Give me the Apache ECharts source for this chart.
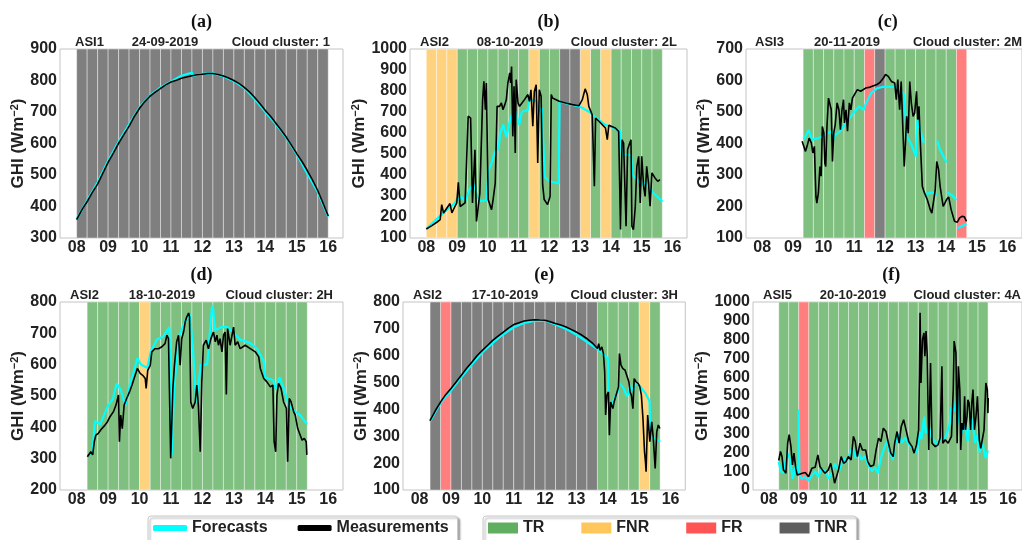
<!DOCTYPE html>
<html>
<head>
<meta charset="utf-8">
<script src="https://cdn.jsdelivr.net/npm/echarts/dist/echarts.min.js"></script>
<style>html,body{margin:0;padding:0;background:#fff}#main{width:1022px;height:540px}</style>
</head>
<body>
<div id="main"></div>
<script>
var hourTicks = [8, 9, 10, 11, 12, 13, 14, 15, 16];

// (a) ASI1 24-09-2019
var aMeas = [[8.00,358],[8.17,390],[8.33,415],[8.50,445],[8.67,472],[8.83,505],[9.00,540],[9.17,570],[9.33,600],[9.50,628],[9.67,655],[9.83,685],[10.00,712],[10.17,733],[10.33,750],[10.50,763],[10.67,775],[10.83,786],[11.00,795],[11.17,801],[11.33,807],[11.50,811],[11.67,815],[11.83,818],[12.00,820],[12.17,822],[12.33,822],[12.50,819],[12.67,814],[12.83,808],[13.00,800],[13.17,790],[13.33,778],[13.50,763],[13.67,745],[13.83,726],[14.00,705],[14.17,686],[14.33,665],[14.50,643],[14.67,620],[14.83,595],[15.00,568],[15.17,542],[15.33,515],[15.50,484],[15.67,450],[15.83,412],[16.00,370]];
var aFc = [[8.00,360],[8.33,418],[8.67,478],[9.00,545],[9.33,605],[9.60,650],[9.67,662],[10.00,715],[10.33,752],[10.67,778],[11.00,797],[11.33,815],[11.67,825],[11.70,815],[12.00,821],[12.33,823],[12.67,813],[13.00,798],[13.33,776],[13.67,740],[14.00,700],[14.33,662],[14.67,618],[15.00,566],[15.33,505],[15.67,445],[16.00,368]];
var aBands = [['TNR','08:00','16:00']];

// (b) ASI2 08-10-2019
var bMeas = [[8.00,143],[8.18,159],[8.34,175],[8.45,187],[8.50,259],[8.56,219],[8.67,243],[8.77,264],[8.83,220],[8.93,250],[8.99,267],[9.04,365],[9.10,250],[9.26,267],[9.36,680],[9.44,671],[9.50,267],[9.58,520],[9.63,179],[9.74,314],[9.83,759],[9.87,846],[9.92,711],[9.95,838],[10.01,283],[10.12,235],[10.17,283],[10.24,362],[10.30,727],[10.38,727],[10.44,743],[10.49,711],[10.55,735],[10.60,759],[10.65,838],[10.71,886],[10.74,838],[10.77,917],[10.81,584],[10.85,822],[10.89,505],[10.92,854],[10.98,743],[11.03,727],[11.19,759],[11.30,783],[11.35,751],[11.40,806],[11.46,632],[11.51,798],[11.57,830],[11.62,457],[11.67,806],[11.73,775],[11.78,354],[11.83,283],[11.94,259],[12.02,298],[12.06,783],[12.10,767],[12.32,751],[12.53,743],[12.75,735],[12.96,730],[13.07,759],[13.16,810],[13.23,783],[13.28,727],[13.39,687],[13.46,346],[13.50,671],[13.61,656],[13.82,624],[13.88,568],[13.93,637],[14.14,624],[14.25,608],[14.31,140],[14.36,568],[14.41,552],[14.49,156],[14.54,521],[14.61,552],[14.65,568],[14.68,156],[14.73,140],[14.79,251],[14.84,441],[14.90,489],[14.95,267],[15.00,489],[15.06,346],[15.11,298],[15.16,441],[15.22,362],[15.27,251],[15.33,410],[15.38,417],[15.43,386],[15.52,370],[15.59,378]];
var bFc = [[8.00,143],[8.30,185],[8.60,225],[8.90,262],[9.00,285],[9.15,295],[9.25,275],[9.40,330],[9.55,360],[9.65,300],[9.75,275],[9.95,280],[10.02,420],[10.15,470],[10.22,510],[10.35,525],[10.40,600],[10.50,640],[10.60,580],[10.75,680],[10.90,700],[11.02,640],[11.10,700],[11.30,710],[11.35,760],[11.60,750],[11.67,700],[11.75,720],[11.85,390],[12.00,370],[12.30,360],[12.33,750],[12.70,735],[13.00,725],[13.30,700],[13.50,675],[13.80,640],[14.00,630],[14.30,610],[14.35,500],[14.65,495],[14.70,400],[15.00,355],[15.10,365],[15.40,310],[15.67,275]];
var bBands = [['FNR','08:00','09:00'],['TR','09:00','11:20'],['FNR','11:20','11:40'],['TR','11:40','12:20'],['TNR','12:20','13:00'],['FNR','13:00','13:20'],['TR','13:20','13:40'],['FNR','13:40','14:00'],['TR','14:00','15:40']];

// (c) ASI3 20-11-2019
var cMeas = [[9.30,407],[9.35,402],[9.41,375],[9.46,391],[9.53,417],[9.60,402],[9.65,370],[9.70,391],[9.75,232],[9.78,211],[9.83,243],[9.88,327],[9.92,296],[9.96,454],[10.01,433],[10.04,338],[10.07,327],[10.11,454],[10.16,544],[10.21,550],[10.25,507],[10.29,343],[10.33,433],[10.38,460],[10.44,529],[10.50,507],[10.55,444],[10.60,507],[10.65,539],[10.68,465],[10.73,507],[10.78,439],[10.84,529],[10.89,507],[10.94,544],[10.99,539],[11.10,571],[11.21,566],[11.37,576],[11.52,579],[11.74,587],[11.84,594],[11.95,608],[12.02,619],[12.11,613],[12.21,597],[12.32,592],[12.37,539],[12.42,603],[12.48,507],[12.53,597],[12.58,603],[12.63,327],[12.67,402],[12.71,486],[12.76,433],[12.81,597],[12.86,529],[12.92,486],[12.97,497],[13.03,566],[13.07,476],[13.11,518],[13.16,391],[13.22,264],[13.27,248],[13.38,222],[13.48,190],[13.53,179],[13.64,253],[13.69,343],[13.75,317],[13.80,264],[13.90,200],[14.01,222],[14.08,230],[14.16,190],[14.27,153],[14.36,150],[14.43,163],[14.51,169],[14.59,167],[14.66,153]];
var cFc = [[9.35,412],[9.45,430],[9.51,444],[9.62,412],[9.83,417],[10.04,428],[10.25,439],[10.33,415],[10.36,425],[10.55,440],[10.68,460],[10.89,486],[11.15,518],[11.31,507],[11.37,525],[11.55,560],[11.74,575],[11.95,580],[12.26,580],[12.45,575],[12.63,555],[12.71,423],[12.85,400],[13.01,359],[13.06,476],[13.27,402],null,[13.34,240],[13.55,245],[13.69,235],null,[13.70,410],[13.80,380],[14.01,340],null,[14.02,245],[14.20,235],[14.33,220],null,[14.36,130],[14.66,145]];
var cBands = [['TR','09:20','11:20'],['FR','11:20','11:40'],['TNR','11:40','12:00'],['TR','12:00','14:20'],['FR','14:20','14:40']];

// (d) ASI2 18-10-2019
var dMeas = [[8.34,306],[8.40,312],[8.45,322],[8.51,312],[8.56,354],[8.61,375],[8.69,381],[8.80,396],[8.90,407],[8.98,418],[9.06,434],[9.17,450],[9.25,471],[9.33,503],[9.36,354],[9.40,439],[9.45,396],[9.51,471],[9.59,492],[9.68,513],[9.76,535],[9.86,566],[9.93,588],[10.02,572],[10.10,566],[10.18,556],[10.21,524],[10.26,582],[10.34,598],[10.39,641],[10.49,651],[10.60,651],[10.71,657],[10.81,667],[10.87,694],[10.92,683],[10.99,301],[11.06,524],[11.11,598],[11.18,673],[11.24,694],[11.29,598],[11.34,683],[11.40,704],[11.45,736],[11.50,752],[11.56,765],[11.59,752],[11.63,481],[11.69,460],[11.77,481],[11.82,535],[11.87,471],[11.93,322],[11.98,545],[12.03,662],[12.12,678],[12.19,651],[12.27,683],[12.35,704],[12.41,673],[12.46,694],[12.51,662],[12.56,683],[12.62,641],[12.67,694],[12.72,704],[12.76,505],[12.80,715],[12.88,662],[12.99,720],[13.04,662],[13.12,673],[13.20,651],[13.36,662],[13.52,651],[13.68,641],[13.79,625],[13.84,588],[13.95,556],[14.05,545],[14.16,529],[14.24,535],[14.28,354],[14.33,322],[14.37,503],[14.42,540],[14.50,524],[14.58,481],[14.67,460],[14.71,290],[14.76,492],[14.82,481],[14.90,450],[14.95,439],[15.03,396],[15.11,375],[15.17,359],[15.24,365],[15.30,354],[15.32,312]];
var dFc = [[8.34,312],[8.50,320],[8.58,420],[8.75,410],[9.00,470],[9.15,490],[9.27,540],[9.40,520],[9.55,470],[9.70,540],[9.85,590],[9.93,620],[10.05,600],[10.25,590],[10.35,640],[10.55,680],[10.75,690],[10.95,720],[11.02,310],[11.10,520],[11.25,690],[11.45,740],[11.60,760],[11.70,650],[11.80,480],[11.95,600],[12.15,600],[12.30,780],[12.33,790],[12.40,710],[12.60,720],[12.80,720],[13.00,700],[13.20,680],[13.50,670],[13.75,650],[13.95,610],[14.00,560],[14.25,550],[14.35,520],[14.45,560],[14.60,520],[14.75,470],[14.95,450],[15.10,440],[15.32,410]];
var dBands = [['TR','08:20','10:00'],['FNR','10:00','10:20'],['TR','10:20','15:20']];

// (e) ASI2 17-10-2019
var eMeas = [[8.33,358],[8.50,395],[8.67,428],[8.83,455],[9.00,478],[9.17,503],[9.33,527],[9.50,553],[9.67,577],[9.83,600],[10.00,620],[10.17,639],[10.33,657],[10.50,673],[10.67,688],[10.83,703],[11.00,716],[11.17,723],[11.33,729],[11.50,732],[11.67,734],[11.83,733],[12.00,732],[12.17,726],[12.33,720],[12.50,714],[12.67,707],[12.83,698],[13.00,688],[13.17,677],[13.33,664],[13.50,648],[13.67,627],[13.71,645],[13.75,620],[13.81,633],[13.86,608],[13.90,540],[13.93,379],[13.97,453],[14.02,465],[14.05,304],[14.09,428],[14.16,403],[14.20,428],[14.26,422],[14.34,484],[14.37,608],[14.42,565],[14.48,552],[14.55,546],[14.60,540],[14.67,503],[14.71,465],[14.75,453],[14.80,403],[14.84,515],[14.90,503],[14.97,496],[15.02,484],[15.07,453],[15.12,366],[15.17,242],[15.20,205],[15.22,168],[15.27,379],[15.34,280],[15.40,354],[15.45,292],[15.51,180],[15.56,317],[15.61,342],[15.66,329]];
var eFc = [[8.33,355],[8.67,425],[9.00,470],[9.33,520],[9.67,568],[10.00,612],[10.33,648],[10.67,680],[11.00,706],[11.33,722],[11.67,730],[12.00,731],[12.33,716],[12.67,700],[13.00,678],[13.33,652],[13.67,625],[13.80,610],[14.00,590],[14.02,430],[14.10,405],[14.20,440],[14.33,470],[14.36,500],[14.50,480],[14.60,450],[14.67,460],[14.72,490],[14.80,470],[14.90,500],[15.00,490],[15.20,460],[15.33,430],[15.35,305],[15.50,290],[15.67,282]];
var eBands = [['TNR','08:20','08:40'],['FR','08:40','09:00'],['TNR','09:00','13:40'],['TR','13:40','15:00'],['FNR','15:00','15:20'],['TR','15:20','15:40']];

// (f) ASI5 20-10-2019
var fMeas = [[8.33,157],[8.39,205],[8.44,178],[8.49,107],[8.57,89],[8.63,249],[8.68,294],[8.74,231],[8.79,133],[8.84,196],[8.90,116],[8.95,80],[9.01,80],[9.12,89],[9.22,93],[9.33,71],[9.44,116],[9.55,121],[9.64,187],[9.71,125],[9.79,107],[9.88,89],[9.93,80],[9.99,107],[10.07,142],[10.15,80],[10.20,36],[10.26,44],[10.33,107],[10.42,178],[10.50,142],[10.58,151],[10.66,178],[10.75,160],[10.83,285],[10.89,258],[10.96,178],[11.05,249],[11.13,213],[11.24,213],[11.31,151],[11.40,125],[11.51,133],[11.59,213],[11.67,276],[11.75,258],[11.83,329],[11.92,311],[11.99,258],[12.08,196],[12.16,178],[12.21,249],[12.29,311],[12.36,249],[12.43,338],[12.51,374],[12.59,320],[12.68,258],[12.79,231],[12.86,196],[12.94,240],[13.01,320],[13.04,623],[13.06,943],[13.09,569],[13.14,801],[13.19,836],[13.22,712],[13.26,845],[13.30,712],[13.35,213],[13.41,676],[13.46,249],[13.57,231],[13.66,240],[13.73,276],[13.79,658],[13.82,249],[13.90,267],[14.00,249],[14.11,285],[14.17,534],[14.20,792],[14.26,730],[14.30,249],[14.34,658],[14.39,534],[14.42,213],[14.46,356],[14.51,320],[14.55,498],[14.58,320],[14.63,391],[14.66,480],[14.70,463],[14.75,320],[14.79,463],[14.83,534],[14.88,320],[14.93,391],[14.98,498],[15.04,267],[15.09,222],[15.15,213],[15.20,320],[15.26,569],[15.31,534],[15.33,409],[15.34,489]];
var fFc = [[8.33,150],[8.40,100],[8.50,90],[8.60,200],[8.70,170],[8.80,60],[8.90,130],[8.99,90],[9.00,430],[9.02,80],[9.10,60],[9.20,70],[9.33,50],[9.45,80],[9.55,100],[9.65,70],[9.75,110],[9.90,100],[10.00,60],[10.10,90],[10.20,140],[10.35,100],[10.50,170],[10.60,150],[10.70,190],[10.80,230],[10.90,170],[11.00,200],[11.10,160],[11.20,180],[11.30,140],[11.45,100],[11.55,120],[11.65,90],[11.75,170],[11.85,220],[11.95,260],[12.05,200],[12.15,160],[12.25,260],[12.35,300],[12.45,250],[12.55,280],[12.65,250],[12.80,220],[12.95,200],[13.00,260],[13.05,310],[13.10,270],[13.20,390],[13.25,300],[13.35,340],[13.45,280],[13.55,260],[13.65,240],[13.75,280],[13.85,260],[13.95,300],[14.05,350],[14.10,440],[14.20,420],[14.30,510],[14.35,380],[14.45,300],[14.55,350],[14.65,260],[14.70,320],[14.80,380],[14.90,250],[15.00,300],[15.05,200],[15.15,250],[15.25,170],[15.33,210]];
var fBands = [['TR','08:20','09:00'],['FR','09:00','09:20'],['TR','09:20','15:20']];

var panelTags = ['(a)', '(b)', '(c)', '(d)', '(e)', '(f)'];
var cameras = ['ASI1', 'ASI2', 'ASI3', 'ASI2', 'ASI2', 'ASI5'];
var dates = ['24-09-2019', '08-10-2019', '20-11-2019', '18-10-2019', '17-10-2019', '20-10-2019'];
var clusters = ['Cloud cluster: 1', 'Cloud cluster: 2L', 'Cloud cluster: 2M', 'Cloud cluster: 2H', 'Cloud cluster: 3H', 'Cloud cluster: 4A'];
var yMins = [300, 100, 100, 200, 100, 0];
var yMaxs = [900, 1000, 700, 800, 800, 1000];

var measSets = [aMeas, bMeas, cMeas, dMeas, eMeas, fMeas];
var fcSets = [aFc, bFc, cFc, dFc, eFc, fFc];
var bandSets = [aBands, bBands, cBands, dBands, eBands, fBands];

// layout of the six axes boxes
var boxes = [
    {left: 60, top: 49, width: 283, height: 189, gap: 14, lab: [15, 105, 270]},
    {left: 410, top: 49, width: 277, height: 189, gap: 24, lab: [10, 100, 267]},
    {left: 746, top: 49, width: 283.5, height: 189, gap: 17, lab: [9, 101, 276]},
    {left: 60, top: 302, width: 283, height: 188, gap: 16, lab: [10, 102, 273]},
    {left: 403, top: 302, width: 282.3, height: 188, gap: 18, lab: [10, 102, 275]},
    {left: 753, top: 302, width: 276.3, height: 188, gap: 27, lab: [10, 100, 268]}
];

var bandColors = {TR: '#7fbf7f', FNR: '#ffd27f', FR: '#ff7f7f', TNR: '#7f7f7f'};
var legendColors = {TR: '#60ae60', FNR: '#ffc65c', FR: '#ff5454', TNR: '#5e5e5e'};
var font = 'Liberation Sans';

function hrs(t) {
    var p = t.split(':');
    return +p[0] + (+p[1]) / 60;
}

var grids = [], xAxes = [], yAxes = [], series = [], graphics = [];

boxes.forEach(function (b, i) {
    grids.push({left: b.left, top: b.top, width: b.width, height: b.height,
        show: true, borderColor: '#c4c4c4', borderWidth: 1, backgroundColor: 'transparent'});
    xAxes.push({
        type: 'value', gridIndex: i, min: 7.47, max: 16.47,
        axisLine: {show: false}, axisTick: {show: false}, splitLine: {show: false},
        axisLabel: {
            customValues: hourTicks, margin: 2, color: '#222', fontSize: 16, fontWeight: 'bold', fontFamily: font,
            formatter: function (v) { return (v < 10 ? '0' : '') + v; }
        }
    });
    yAxes.push({
        type: 'value', gridIndex: i, min: yMins[i], max: yMaxs[i], interval: 100,
        axisLine: {show: false}, axisTick: {show: false}, splitLine: {show: false},
        axisLabel: {margin: 3, color: '#222', fontSize: 16, fontWeight: 'bold', fontFamily: font,
            formatter: function (v) { return String(v); }},
        name: 'GHI (Wm{s|\u22122})', nameLocation: 'middle', nameGap: b.gap,
        nameTextStyle: {
            color: '#222', fontSize: 17, fontWeight: 'bold', fontFamily: font,
            rich: {s: {fontSize: 11, fontWeight: 'bold', fontFamily: font, color: '#222', verticalAlign: 'top'}}
        }
    });

    ['TR', 'FNR', 'FR', 'TNR'].forEach(function (cat) {
        var areas = [];
        bandSets[i].forEach(function (bd) {
            if (bd[0] !== cat) return;
            var s = hrs(bd[1]), e = hrs(bd[2]);
            for (var t = s; t < e - 0.01; t += 1 / 3) {
                areas.push([{xAxis: t}, {xAxis: Math.min(t + 1 / 3, e)}]);
            }
        });
        series.push({
            name: cat, type: 'line', xAxisIndex: i, yAxisIndex: i, data: [], z: 1,
            itemStyle: {color: legendColors[cat]}, silent: true,
            markArea: {
                silent: true,
                itemStyle: {color: bandColors[cat], borderColor: 'rgba(255,255,255,0.4)', borderWidth: 1},
                data: areas
            }
        });
    });

    series.push({
        name: 'Forecasts', type: 'line', xAxisIndex: i, yAxisIndex: i, data: fcSets[i],
        symbol: 'none', connectNulls: false, z: 3,
        lineStyle: {color: '#00ffff', width: 2.2}, itemStyle: {color: '#00ffff'}
    });
    series.push({
        name: 'Measurements', type: 'line', xAxisIndex: i, yAxisIndex: i, data: measSets[i],
        symbol: 'none', z: 4,
        lineStyle: {color: '#000', width: 1.6}, itemStyle: {color: '#000'}
    });

    graphics.push({type: 'text', x: b.left + b.width / 2, y: b.top - 27,
        style: {text: panelTags[i], fontFamily: 'Liberation Serif', fontWeight: 'bold', fontSize: 18, fill: '#111', align: 'center', verticalAlign: 'middle'}});
    var sub = {fontFamily: font, fontWeight: 'bold', fontSize: 13, fill: '#222', verticalAlign: 'middle'};
    graphics.push({type: 'text', x: b.left + b.lab[0], y: b.top - 6.5,
        style: Object.assign({text: cameras[i], align: 'left'}, sub)});
    graphics.push({type: 'text', x: b.left + b.lab[1], y: b.top - 6.5,
        style: Object.assign({text: dates[i], align: 'center'}, sub)});
    graphics.push({type: 'text', x: b.left + b.lab[2], y: b.top - 6.5,
        style: Object.assign({text: clusters[i], align: 'right'}, sub)});
});

var legendText = {fontSize: 16, fontWeight: 'bold', color: '#222', fontFamily: font};
var legendBox = {
    top: 516, borderColor: '#c8c8c8', borderWidth: 1, borderRadius: 3, backgroundColor: '#fff',
    shadowColor: 'rgba(0,0,0,0.35)', shadowBlur: 2, shadowOffsetX: 2, shadowOffsetY: 2,
    textStyle: legendText, selectedMode: false
};

var option = {
    animation: false,
    backgroundColor: '#fff',
    grid: grids,
    xAxis: xAxes,
    yAxis: yAxes,
    legend: [
        Object.assign({
            left: 148, icon: 'roundRect', itemWidth: 34, itemHeight: 6, itemGap: 30, padding: [4, 9, 10, 5],
            data: [{name: 'Forecasts', itemStyle: {color: '#00ffff'}}, {name: 'Measurements', itemStyle: {color: '#000'}}]
        }, legendBox),
        Object.assign({
            left: 483, icon: 'rect', itemWidth: 30, itemHeight: 11, itemGap: 37, padding: [4, 9, 10, 5],
            data: ['TR', 'FNR', 'FR', 'TNR'].map(function (c) {
                return {name: c, itemStyle: {color: legendColors[c]}};
            })
        }, legendBox)
    ],
    graphic: graphics,
    series: series
};

var myChart = echarts.init(document.getElementById('main'), null, {renderer: 'canvas'});
myChart.setOption(option);
</script>
</body>
</html>
